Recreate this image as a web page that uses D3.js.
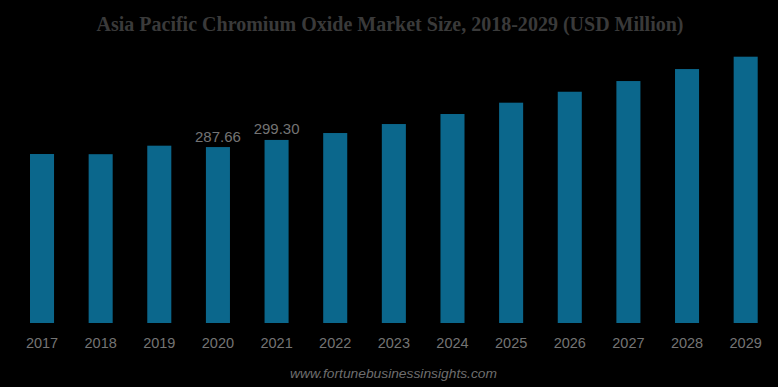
<!DOCTYPE html>
<html>
<head>
<meta charset="utf-8">
<script src="https://cdn.jsdelivr.net/npm/d3@7"></script>
<style>
  html, body { margin: 0; padding: 0; background: #000; }
  svg { display: block; }
</style>
</head>
<body>
<script>
const years = ["2017","2018","2019","2020","2021","2022","2023","2024","2025","2026","2027","2028","2029"];
const values = [276.3, 276.0, 289.9, 287.66, 299.30, 310.6, 325.3, 341.7, 360.2, 378.1, 395.6, 415.2, 435.4];
const labelled = {"2020": "287.66", "2021": "299.30"};
const title = "Asia Pacific Chromium Oxide Market Size, 2018-2029 (USD Million)";
const source = "www.fortunebusinessinsights.com";

const W = 778, H = 387;
const svg = d3.select("body").append("svg").attr("width", W).attr("height", H);
svg.append("rect").attr("width", W).attr("height", H).attr("fill", "#000");

const x = d3.scaleBand().domain(years).range([12.7, 775]).paddingInner(0.59).paddingOuter(0.295);
const y = d3.scaleLinear().domain([0, 435.4]).range([323, 56.7]);

svg.append("text")
  .attr("x", 390).attr("y", 31)
  .attr("text-anchor", "middle")
  .attr("font-family", "'Liberation Serif', 'Times New Roman', serif")
  .attr("font-weight", "bold")
  .attr("font-size", 20.5)
  .attr("fill", "#3a3a3a")
  .attr("textLength", 587).attr("lengthAdjust", "spacingAndGlyphs")
  .text(title);

svg.selectAll("rect.bar").data(years).enter().append("rect")
  .attr("class", "bar")
  .attr("x", d => x(d))
  .attr("width", x.bandwidth())
  .attr("y", (d, i) => y(values[i]))
  .attr("height", (d, i) => y(0) - y(values[i]))
  .attr("fill", "#0b678c");

svg.selectAll("text.val").data(years.filter(d => labelled[d])).enter().append("text")
  .attr("class", "val")
  .attr("x", d => x(d) + x.bandwidth() / 2)
  .attr("y", d => y(values[years.indexOf(d)]) - 5.5)
  .attr("text-anchor", "middle")
  .attr("font-family", "'Liberation Sans', Arial, sans-serif")
  .attr("font-size", 15)
  .attr("fill", "#747474")
  .text(d => labelled[d]);

const xAxis = d3.axisBottom(x).tickSize(0).tickPadding(0);
const gx = svg.append("g").attr("transform", "translate(0,323)").call(xAxis);
gx.select(".domain").remove();
gx.selectAll("text")
  .attr("y", 25)
  .attr("dy", 0)
  .attr("font-family", "'Liberation Sans', Arial, sans-serif")
  .attr("font-size", 14.5)
  .attr("fill", "#747474");

svg.append("text")
  .attr("x", 393.5).attr("y", 378)
  .attr("text-anchor", "middle")
  .attr("font-family", "'Liberation Sans', Arial, sans-serif")
  .attr("font-style", "italic")
  .attr("font-size", 13)
  .attr("fill", "#6e6e6e")
  .attr("textLength", 207).attr("lengthAdjust", "spacingAndGlyphs")
  .text(source);
</script>
</body>
</html>
